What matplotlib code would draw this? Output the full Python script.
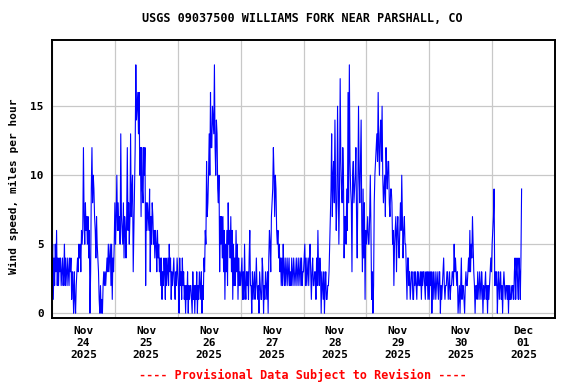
import numpy as np
import pandas as pd
import matplotlib
matplotlib.use("Agg")
import matplotlib.pyplot as plt

# wind speed, mph, 15-minute readings starting Nov 24 2025 00:00
nov24 = [3, 5, 1, 4, 2, 5, 3, 6, 2, 4, 2, 4, 3, 4, 2, 3, 4, 2, 3, 5,
         2, 4, 3, 2, 4, 3, 2, 4, 3, 4, 1, 3, 2, 0, 3, 1, 0, 2, 3, 4,
         3, 5, 4, 5, 3, 6, 5, 6, 12, 7, 5, 8, 6, 7, 5, 7, 4, 6, 0, 3,
         9, 12, 8, 10, 9, 7, 6, 4, 7, 5, 4, 3, 1, 0, 2, 0, 1, 0, 2, 3,
         2, 3, 2, 3, 4, 3, 5, 3, 4, 5, 2, 5, 1, 4, 3, 5]
nov25 = [8, 5, 7, 10, 6, 8, 6, 7, 5, 13, 7, 6, 5, 8, 4, 7, 6, 4, 7, 12,
         6, 8, 5, 7, 13, 7, 9, 10, 3, 6, 9, 12, 18, 14, 15, 16, 13, 16, 10, 12,
         7, 12, 9, 8, 12, 10, 12, 2, 8, 6, 8, 7, 6, 9, 3, 7, 5, 8, 7, 5,
         6, 4, 6, 5, 3, 6, 4, 5, 3, 4, 2, 4, 1, 3, 2, 4, 3, 1, 4, 2,
         3, 4, 2, 5, 3, 4, 1, 3, 2, 3, 4, 2, 1, 3, 2, 4]
nov26 = [3, 2, 0, 4, 2, 3, 1, 4, 2, 3, 1, 2, 0, 2, 1, 3, 0, 2, 1, 2,
         2, 1, 0, 3, 1, 2, 0, 2, 1, 3, 0, 2, 1, 3, 2, 1, 3, 0, 2, 1,
         4, 3, 6, 5, 11, 7, 8, 10, 13, 10, 16, 12, 12, 15, 14, 13, 18, 12, 10, 14,
         13, 9, 8, 10, 3, 7, 5, 7, 4, 7, 3, 6, 1, 5, 3, 6, 2, 8, 5, 6,
         4, 7, 3, 6, 1, 5, 2, 4, 2, 6, 3, 5, 1, 4, 2, 3]
nov27 = [2, 3, 4, 1, 3, 1, 5, 2, 1, 3, 2, 3, 1, 4, 6, 2, 2, 0, 3, 1,
         2, 3, 1, 2, 4, 2, 1, 2, 0, 3, 2, 1, 1, 4, 3, 0, 2, 1, 3, 2,
         1, 3, 0, 4, 6, 5, 3, 7, 8, 9, 12, 10, 7, 10, 9, 6, 5, 6, 4, 5,
         3, 4, 2, 4, 2, 5, 3, 2, 4, 2, 3, 4, 2, 3, 4, 2, 3, 2, 4, 3,
         2, 4, 3, 2, 3, 4, 2, 3, 4, 2, 3, 4, 2, 4, 2, 3]
nov28 = [3, 4, 5, 2, 4, 2, 3, 4, 2, 4, 5, 3, 1, 3, 4, 2, 2, 3, 3, 1,
         4, 2, 6, 3, 2, 4, 3, 0, 3, 2, 1, 3, 0, 2, 3, 1, 1, 2, 2, 3,
         5, 7, 9, 13, 7, 10, 11, 8, 14, 9, 6, 8, 15, 10, 5, 9, 17, 11, 9, 8,
         12, 10, 4, 7, 7, 5, 9, 6, 16, 8, 18, 11, 9, 8, 3, 10, 11, 8, 9, 10,
         12, 7, 4, 9, 15, 10, 8, 11, 14, 6, 3, 9, 4, 8, 1, 6]
nov29 = [5, 6, 7, 5, 5, 7, 10, 6, 1, 3, 0, 2, 8, 10, 11, 12, 13, 11, 16, 12,
         10, 13, 14, 11, 15, 10, 8, 9, 10, 7, 12, 10, 9, 11, 11, 8, 7, 9, 9, 8,
         5, 6, 2, 5, 6, 7, 3, 6, 7, 5, 4, 6, 8, 6, 10, 7, 4, 6, 7, 5,
         5, 3, 1, 4, 4, 2, 3, 1, 2, 3, 3, 1, 1, 3, 2, 3, 2, 1, 3, 2,
         3, 2, 2, 3, 1, 3, 2, 3, 3, 2, 1, 3, 2, 3, 1, 3]
nov30 = [1, 3, 2, 3, 0, 2, 3, 1, 2, 3, 1, 2, 3, 2, 1, 3, 3, 0, 2, 1,
         2, 3, 4, 2, 1, 2, 2, 3, 3, 1, 2, 3, 1, 2, 2, 3, 3, 2, 5, 3,
         4, 3, 2, 3, 0, 1, 2, 0, 2, 4, 1, 2, 2, 1, 0, 2, 3, 2, 2, 3,
         4, 3, 6, 3, 5, 4, 7, 5, 3, 2, 0, 2, 2, 1, 3, 2, 1, 3, 2, 1,
         3, 2, 0, 2, 1, 2, 3, 1, 2, 0, 2, 1, 2, 3, 4, 3]
dec01 = [5, 6, 7, 9, 2, 3, 2, 3, 0, 2, 3, 1, 2, 3, 1, 2, 0, 2, 3, 2,
         1, 2, 2, 1, 2, 0, 2, 1, 1, 2, 1, 2, 2, 1, 3, 4, 1, 3, 4, 2,
         1, 4, 3, 1, 4, 9]

speed = nov24 + nov25 + nov26 + nov27 + nov28 + nov29 + nov30 + dec01
times = pd.date_range("2025-11-24 00:00", periods=len(speed), freq="15min")

day_labels = ["Nov\n24\n2025", "Nov\n25\n2025", "Nov\n26\n2025", "Nov\n27\n2025",
              "Nov\n28\n2025", "Nov\n29\n2025", "Nov\n30\n2025", "Dec\n01\n2025"]

mono = "DejaVu Sans Mono"

fig = plt.figure(figsize=(5.76, 3.84), dpi=100)
ax = fig.add_axes([52 / 576, 66 / 384, 503 / 576, 278 / 384])

ax.plot(times, speed, color="#0000ff", lw=0.8)

start = pd.Timestamp("2025-11-24")
ax.set_xlim(start, start + pd.Timedelta(days=8))
ax.set_ylim(-0.35, 19.8)

midnights = pd.date_range(start, periods=9, freq="D")
noons = midnights[:8] + pd.Timedelta(hours=12)
ax.set_xticks(midnights)
ax.set_xticklabels([])
ax.set_xticks(noons, minor=True)
ax.set_xticklabels(day_labels, minor=True, fontfamily=mono, fontweight="bold",
                   fontsize=8)
ax.set_yticks([0, 5, 10, 15])
ax.set_yticklabels(["0", "5", "10", "15"], fontfamily=mono, fontweight="bold",
                   fontsize=8)
ax.tick_params(axis="both", which="both", length=0)
ax.tick_params(axis="x", which="minor", pad=6)
ax.tick_params(axis="y", pad=6)

ax.grid(True, which="major", color="#c8c8c8", lw=0.9)
ax.set_axisbelow(True)
for s in ax.spines.values():
    s.set_linewidth(1.4)

fig.text(0.525, 1 - 19 / 384, "USGS 09037500 WILLIAMS FORK NEAR PARSHALL, CO",
         ha="center", va="center", fontfamily=mono, fontweight="bold", fontsize=8.5)
fig.text(14 / 576, 1 - 186 / 384, "Wind speed, miles per hour", rotation=90,
         ha="center", va="center", fontfamily=mono, fontweight="bold", fontsize=8)
fig.text(0.525, 1 - 375 / 384, "---- Provisional Data Subject to Revision ----",
         ha="center", va="center", fontfamily=mono, fontweight="bold", fontsize=8.5,
         color="#ff0000")

fig.savefig("out.png", dpi=100)
